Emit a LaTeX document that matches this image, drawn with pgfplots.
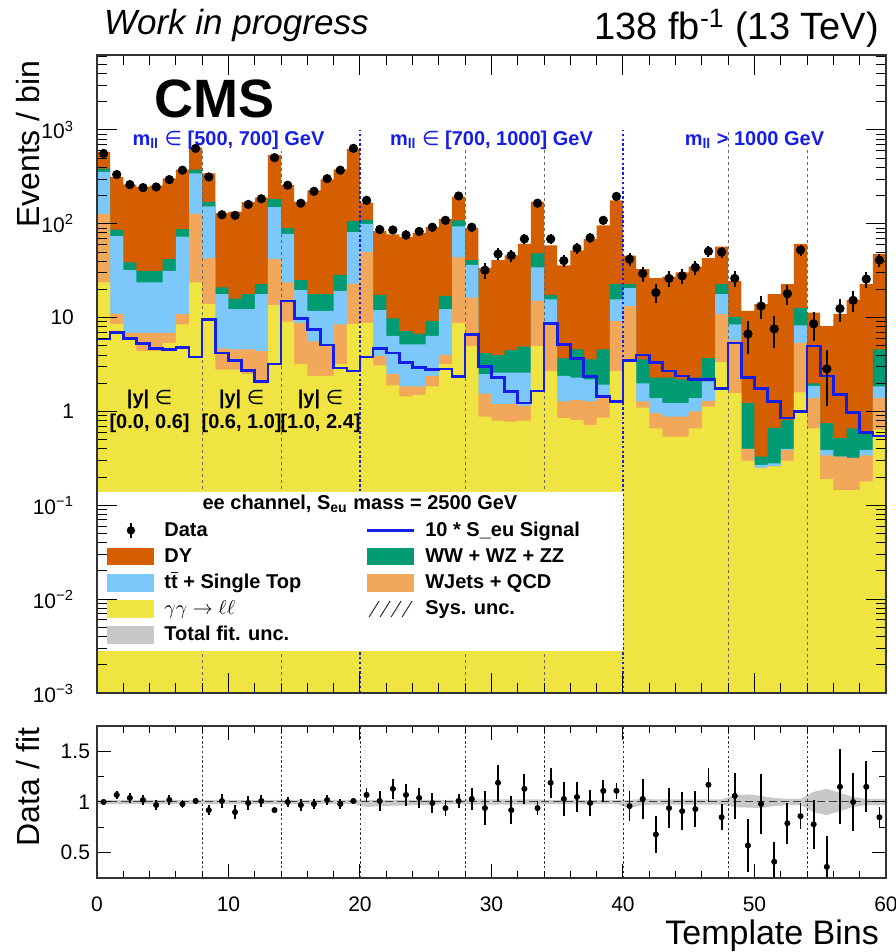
\documentclass[border=0pt]{standalone}
\usepackage{fontspec}
\setmainfont{Liberation Sans}
\newfontfamily\dejavu{DejaVu Sans}
\usepackage{pgfplots}
\pgfplotsset{compat=1.18}
\usepackage{pgfplotstable}

\definecolor{dyc}{RGB}{213,94,0}
\definecolor{ttc}{RGB}{125,200,250}
\definecolor{wwc}{RGB}{0,155,115}
\definecolor{wjc}{RGB}{242,168,90}
\definecolor{yyc}{RGB}{240,228,66}
\definecolor{sigc}{RGB}{20,30,230}
\definecolor{uncc}{RGB}{200,200,200}

% cumulative stack tops: dy = total, ww = WW+tt+WJ+yy, tt = tt+WJ+yy, wj = WJ+yy, yy
\pgfplotstableread{
x dy ww tt wj yy sig
0 586 388 358 128 23.7 5.9
1 316 87 74 11.0 8.6 6.9
2 262 38.8 32.1 6.9 6.1 6.0
3 248 31.6 23.7 6.9 4.4 5.3
4 255 31.6 23.7 6.9 4.4 4.7
5 305 42 31.6 6.9 5.4 4.6
6 379 88 73 10.9 8.5 4.8
7 650 379 344 128 23.7 3.8
8 345 171 153 43 13.9 9.6
9 130 21 17.8 4.7 2.8 4.2
10 135 16 12.3 4.6 2.8 3.5
11 170 17.8 12.3 4.6 2.5 2.75
12 190 22.8 17.8 4.4 2.0 2.1
13 540 185 151 42 13.6 3.2
14 258 90 78 23.7 9.1 15.1
15 171 25.1 19.6 8.8 3.2 9.8
16 227 17.8 11.8 5.6 2.4 7.5
17 297 17.8 11.8 5.0 2.4 5.1
18 381 28.6 19.3 8.5 3.2 2.9
19 631 107 81.5 23.1 8.6 2.7
20 168 110 100 50 8.8 3.8
21 84 17.5 12.0 3.9 3.1 4.7
22 77 9.8 6.4 2.5 1.9 4.2
23 72 7.2 5.2 1.85 1.45 3.35
24 80 6.7 5.2 1.85 1.5 2.95
25 92 9.2 6.4 2.4 1.85 2.8
26 113 17.1 12.3 4.0 3.2 2.85
27 195 109 94 44 8.8 2.35
28 90 41 36.6 16.4 5.0 6.6
29 34 4.2 2.5 1.55 0.88 3.0
30 41 4.0 2.6 1.2 0.8 2.3
31 46 4.5 2.6 1.2 0.78 1.64
32 61 4.9 2.6 1.15 0.8 1.23
33 171 48.5 34.3 15.1 5.0 1.66
34 59 17.5 15.7 8.6 2.7 8.7
35 36 3.7 2.4 1.28 0.85 5.2
36 52 4.6 2.3 1.33 0.81 3.65
37 69 3.6 2.2 1.28 0.72 2.35
38 96 4.6 1.93 1.39 0.86 1.45
39 178 22.8 15.7 9.2 2.7 1.28
40 45.8 22.8 20.6 13.3 3.5 3.5
41 33 3.6 2.0 1.28 1.1 4.0
42 26.4 2.3 1.39 0.96 0.66 3.35
43 27.3 2.3 1.23 0.88 0.54 2.7
44 30.3 2.2 1.23 0.88 0.54 2.4
45 34.9 2.3 1.39 1.0 0.66 2.2
46 43.2 3.7 2.1 1.3 1.13 2.2
47 57 22.8 17.8 10.9 3.35 1.77
48 24.7 10.2 8.5 5.7 1.57 5.35
49 11.8 1.23 0.40 0.40 0.30 2.3
50 13.9 0.33 0.27 0.25 0.25 1.75
51 17.8 0.67 0.28 0.26 0.26 1.28
52 22.8 0.81 0.40 0.39 0.30 0.85
53 61 12.6 8.3 5.4 1.6 1.0
54 11.3 2.0 1.88 1.39 0.66 5.0
55 8.1 0.75 0.39 0.34 0.19 2.4
56 10.9 0.52 0.33 0.33 0.145 1.52
57 15.5 0.66 0.32 0.32 0.145 0.98
58 22.8 0.61 0.39 0.34 0.18 0.6
59 47.7 4.6 1.85 1.39 0.64 0.55
60 47.7 4.6 1.85 1.39 0.64 0.55
}\stack

\pgfplotstableread{
x d e
0.5 562 24
1.5 335 18
2.5 262 16
3.5 243 16
4.5 247 16
5.5 296 17
6.5 373 19
7.5 637 25
8.5 316 18
9.5 125 11
10.5 123 11
11.5 161 13
12.5 185 14
13.5 507 22
14.5 258 16
15.5 166 13
16.5 222 15
17.5 303 17
18.5 373 19
19.5 637 25
20.5 178 13
21.5 87 9
22.5 86 9
23.5 76 9
24.5 83 9
25.5 92 10
26.5 109 10
27.5 198 14
28.5 92 10
29.5 32 6
30.5 47.7 7
31.5 46 7
32.5 69 8
33.5 166 13
34.5 69 8
35.5 40.5 6
36.5 55 7
37.5 71 8
38.5 109 10
39.5 196 14
40.5 42 6.5
41.5 29.6 5.4
42.5 18.5 4.3
43.5 26.2 5.1
44.5 27.9 5.3
45.5 34.3 5.9
46.5 51 7.1
47.5 50 7.1
48.5 26.2 5.1
49.5 6.7 2.6
50.5 13.3 3.6
51.5 7.6 2.8
52.5 18 4.2
53.5 52.6 7.3
54.5 8.6 2.9
55.5 2.85 1.7
56.5 12.5 3.5
57.5 15.3 3.9
58.5 25.8 5.1
59.5 41 6.4
}\datatab

\pgfplotstableread{
x r e
0.5 1.00 0.03
1.5 1.07 0.04
2.5 1.04 0.05
3.5 1.02 0.05
4.5 0.97 0.05
5.5 1.02 0.05
6.5 0.98 0.04
7.5 1.01 0.03
8.5 0.92 0.05
9.5 1.01 0.07
10.5 0.90 0.07
11.5 0.99 0.07
12.5 1.01 0.06
13.5 0.92 0.03
14.5 1.00 0.05
15.5 0.97 0.06
16.5 0.98 0.05
17.5 1.02 0.05
18.5 0.98 0.05
19.5 1.01 0.03
20.5 1.07 0.07
21.5 1.01 0.10
22.5 1.13 0.10
23.5 1.07 0.11
24.5 1.04 0.10
25.5 0.99 0.10
26.5 0.94 0.08
27.5 1.01 0.07
28.5 1.03 0.11
29.5 0.94 0.17
30.5 1.19 0.18
31.5 0.92 0.14
32.5 1.13 0.15
33.5 0.94 0.07
34.5 1.19 0.15
35.5 1.03 0.17
36.5 1.05 0.15
37.5 0.99 0.13
38.5 1.11 0.11
39.5 1.11 0.08
40.5 0.96 0.15
41.5 1.03 0.20
42.5 0.68 0.18
43.5 0.94 0.20
44.5 0.91 0.19
45.5 0.93 0.18
46.5 1.17 0.17
47.5 0.85 0.13
48.5 1.06 0.23
49.5 0.57 0.26
50.5 0.98 0.30
51.5 0.41 0.20
52.5 0.79 0.20
53.5 0.86 0.13
54.5 0.78 0.24
55.5 0.36 0.30
56.5 1.15 0.37
57.5 1.00 0.29
58.5 1.15 0.25
59.5 0.85 0.10
}\ratiotab

\pgfplotstableread{
x y
0 1.02
19.5 1.02
20.5 1.02
21.5 1.02
27.5 1.02
28.5 1.025
33.5 1.025
34.5 1.02
39.5 1.02
40.5 1.02
41.5 1.03
42.5 1.025
47.5 1.025
48.5 1.07
49.5 1.075
50.5 1.06
51.5 1.04
52.5 1.03
53.5 1.03
54.5 1.10
55.5 1.13
56.5 1.09
57.5 1.05
58.5 1.03
60 1.03
60 0.97
58.5 0.97
57.5 0.95
56.5 0.91
55.5 0.87
54.5 0.90
53.5 0.97
52.5 0.97
51.5 0.96
50.5 0.94
49.5 0.945
48.5 0.95
47.5 0.975
42.5 0.975
41.5 0.97
40.5 0.94
39.5 0.98
34.5 0.98
33.5 0.975
28.5 0.975
27.5 0.98
21.5 0.96
20.5 0.95
19.5 0.98
0 0.98
}\band

\begin{document}
\begin{tikzpicture}
\begin{axis}[
  name=top, at={(0pt,92.5pt)}, anchor=south west,
  scale only axis, width=394.5pt, height=319pt,
  xmin=0, xmax=60, ymode=log, ymin=1e-3, ymax=6300,
  log origin y=infty, axis on top, clip=false,
  xtick={0,10,...,60}, xticklabels={}, minor x tick num=4,
  ytick={1e-3,1e-2,1e-1,1,10,100,1000},
  yticklabels={10\textsuperscript{−3},10\textsuperscript{−2},10\textsuperscript{−1},1,10,10\textsuperscript{2},10\textsuperscript{3}},
  minor ytick={2e-3,3e-3,4e-3,5e-3,6e-3,7e-3,8e-3,9e-3,2e-2,3e-2,4e-2,5e-2,6e-2,7e-2,8e-2,9e-2,0.2,0.3,0.4,0.5,0.6,0.7,0.8,0.9,2,3,4,5,6,7,8,9,20,30,40,50,60,70,80,90,200,300,400,500,600,700,800,900,2000,3000,4000,5000,6000},
  major tick length=10pt, minor tick length=5pt,
  tick style={black, line width=0.5pt},
  axis line style={black!80, line width=0.6pt},
  tick label style={font=\fontsize{10.5}{12}\selectfont},
  yticklabel style={xshift=-8pt},
  ylabel={Events / bin},
  ylabel style={at={(axis description cs:-0.0875,0.86)}, anchor=center, font=\fontsize{16}{18}\selectfont},
  legend columns=2, legend cell align=left,
  legend style={at={(axis description cs:0.0127,0.2699)}, anchor=north west,
    draw=none, fill=none, inner sep=0pt,
    font=\fontsize{10}{12}\selectfont\bfseries, row sep=3.9pt,
    nodes={inner sep=0pt, text height=7.4pt, text depth=1.8pt},
    /tikz/every odd column/.append style={column sep=5pt},
    /tikz/every even column/.append style={column sep=5pt}},
]
% stacked backgrounds (cumulative)
\addplot[const plot, fill=dyc, draw=none, forget plot] table[x=x, y=dy] {\stack} \closedcycle;
\addplot[const plot, fill=wwc, draw=none, forget plot] table[x=x, y=ww] {\stack} \closedcycle;
\addplot[const plot, fill=ttc, draw=none, forget plot] table[x=x, y=tt] {\stack} \closedcycle;
\addplot[const plot, fill=wjc, draw=none, forget plot] table[x=x, y=wj] {\stack} \closedcycle;
\addplot[const plot, fill=yyc, draw=none, forget plot] table[x=x, y=yy] {\stack} \closedcycle;
% separators
\addplot[black!60, dash pattern=on 1.5pt off 1.5pt, line width=0.5pt, forget plot] coordinates {(8,0.001) (8,600)};
\addplot[black!60, dash pattern=on 1.5pt off 1.5pt, line width=0.5pt, forget plot] coordinates {(14,0.001) (14,600)};
\addplot[black!60, dash pattern=on 1.5pt off 1.5pt, line width=0.5pt, forget plot] coordinates {(28,0.001) (28,650)};
\addplot[black!60, dash pattern=on 1.5pt off 1.5pt, line width=0.5pt, forget plot] coordinates {(34,0.001) (34,650)};
\addplot[black!60, dash pattern=on 1.5pt off 1.5pt, line width=0.5pt, forget plot] coordinates {(48,0.001) (48,1000)};
\addplot[black!60, dash pattern=on 1.5pt off 1.5pt, line width=0.5pt, forget plot] coordinates {(54,0.001) (54,650)};
\addplot[sigc, dash pattern=on 1.2pt off 1.2pt, line width=0.6pt, forget plot] coordinates {(20,0.001) (20,1000)};
\addplot[sigc, dash pattern=on 1.2pt off 1.2pt, line width=0.6pt, forget plot] coordinates {(40,0.001) (40,1000)};
% signal
\addplot[const plot, sigc, line width=1.3pt, forget plot] table[x=x, y=sig] {\stack};
% data
\addplot[only marks, mark=*, mark size=2.1pt, black, forget plot,
  error bars/.cd, y dir=both, y explicit, error bar style={line width=1pt, black}, error mark=none]
  table[x=x, y=d, y error=e] {\datatab};
% legend background
\addplot[fill=white, draw=none, forget plot] coordinates {(0,0.00282) (40,0.00282) (40,0.139) (0,0.139) (0,0.00282)};

\addlegendimage{legend image code/.code={\path[draw=none,fill=none] (0pt,-4.4pt) rectangle (23.5pt,4.4pt); \draw[black,line width=1pt] (11.75pt,-3.8pt)--(11.75pt,3.8pt); \fill[black,draw=none] (11.75pt,0pt) circle (2.1pt);}}
\addlegendentry{\makebox[95.75pt][l]{Data}}
\addlegendimage{legend image code/.code={\path[draw=none,fill=none] (0pt,-4.4pt) rectangle (23.5pt,4.4pt); \draw[sigc,line width=1.2pt] (0pt,0pt)--(23.5pt,0pt);}}
\addlegendentry{10 * S\_eu Signal}
\addlegendimage{legend image code/.code={\fill[dyc,draw=none] (0pt,-4.4pt) rectangle (23.5pt,4.4pt);}}
\addlegendentry{\makebox[95.75pt][l]{DY}}
\addlegendimage{legend image code/.code={\fill[wwc,draw=none] (0pt,-4.4pt) rectangle (23.5pt,4.4pt);}}
\addlegendentry{WW + WZ + ZZ}
\addlegendimage{legend image code/.code={\fill[ttc,draw=none] (0pt,-4.4pt) rectangle (23.5pt,4.4pt);}}
\addlegendentry{\makebox[95.75pt][l]{t$\overline{\mbox{t}}$ + Single Top}}
\addlegendimage{legend image code/.code={\fill[wjc,draw=none] (0pt,-4.4pt) rectangle (23.5pt,4.4pt);}}
\addlegendentry{WJets + QCD}
\addlegendimage{legend image code/.code={\fill[yyc,draw=none] (0pt,-4.4pt) rectangle (23.5pt,4.4pt);}}
\addlegendentry{\makebox[95.75pt][l]{$\gamma\gamma \rightarrow \ell\ell$}}
\addlegendimage{legend image code/.code={\path[draw=none,fill=none] (0pt,-4.4pt) rectangle (23.5pt,4.4pt); \foreach \k in {0,1,2,3} {\draw[black!80, line width=0.5pt] (1pt+5.5pt*\k,-4pt) -- (6pt+5.5pt*\k,4pt);}}}
\addlegendentry{Sys. unc.}
\addlegendimage{legend image code/.code={\fill[uncc,draw=none] (0pt,-4.4pt) rectangle (23.5pt,4.4pt);}}
\addlegendentry{\makebox[95.75pt][l]{Total fit. unc.}}

% annotations
\node[font=\fontsize{27}{30}\selectfont\bfseries] at (axis cs:8.9,2150) {CMS};
\node[font=\fontsize{10}{12}\selectfont\bfseries, text=sigc] at (axis cs:10,782) {m\textsubscript{ll} {\dejavu\mdseries ∈} [500, 700] GeV};
\node[font=\fontsize{10}{12}\selectfont\bfseries, text=sigc] at (axis cs:30,782) {m\textsubscript{ll} {\dejavu\mdseries ∈} [700, 1000] GeV};
\node[font=\fontsize{10}{12}\selectfont\bfseries, text=sigc] at (axis cs:50,782) {m\textsubscript{ll} > 1000 GeV};
\node[font=\fontsize{10}{12}\selectfont\bfseries, align=center] at (axis cs:4,1) {|y| {\dejavu\mdseries ∈}\\{[0.0, 0.6]}};
\node[font=\fontsize{10}{12}\selectfont\bfseries, align=center] at (axis cs:11,1) {|y| {\dejavu\mdseries ∈}\\{[0.6, 1.0]}};
\node[font=\fontsize{10}{12}\selectfont\bfseries, align=center] at (axis cs:17,1) {|y| {\dejavu\mdseries ∈}\\{[1.0, 2.4]}};
\node[font=\fontsize{10}{12}\selectfont\bfseries] at (axis cs:20,0.103) {ee channel, S\textsubscript{eu} mass = 2500 GeV};
\end{axis}

\begin{axis}[
  name=bot, at={(0pt,0pt)}, anchor=south west,
  scale only axis, width=394.5pt, height=76pt,
  xmin=0, xmax=60, ymin=0.25, ymax=1.75, axis on top,
  xtick={0,10,...,60}, xticklabels={0,10,20,30,40,50,60}, minor x tick num=4,
  ytick={0.5,1,1.5}, yticklabels={0.5,1,1.5}, minor ytick={0.75,1.25},
  major tick length=7pt, minor tick length=3.5pt,
  tick style={black, line width=0.5pt},
  axis line style={black!80, line width=0.6pt},
  tick label style={font=\fontsize{10.5}{12}\selectfont},
  xticklabel style={yshift=-6pt},
  ylabel={Data / fit},
  ylabel style={at={(axis description cs:-0.0875,0.6)}, anchor=center, font=\fontsize{16}{18}\selectfont},
]
\addplot[fill=uncc, draw=none] table[x=x, y=y] {\band};
\addplot[black!75, dash pattern=on 4pt off 2pt, line width=0.5pt] coordinates {(0,1) (60,1)};
\addplot[black!80, dash pattern=on 1.2pt off 1.2pt, line width=0.4pt] coordinates {(8,0.25) (8,1.75)};
\addplot[black!80, dash pattern=on 1.2pt off 1.2pt, line width=0.4pt] coordinates {(14,0.25) (14,1.75)};
\addplot[black!80, dash pattern=on 1.2pt off 1.2pt, line width=0.4pt] coordinates {(20,0.25) (20,1.75)};
\addplot[black!80, dash pattern=on 1.2pt off 1.2pt, line width=0.4pt] coordinates {(28,0.25) (28,1.75)};
\addplot[black!80, dash pattern=on 1.2pt off 1.2pt, line width=0.4pt] coordinates {(34,0.25) (34,1.75)};
\addplot[black!80, dash pattern=on 1.2pt off 1.2pt, line width=0.4pt] coordinates {(40,0.25) (40,1.75)};
\addplot[black!80, dash pattern=on 1.2pt off 1.2pt, line width=0.4pt] coordinates {(48,0.25) (48,1.75)};
\addplot[black!80, dash pattern=on 1.2pt off 1.2pt, line width=0.4pt] coordinates {(54,0.25) (54,1.75)};
\addplot[only marks, mark=*, mark size=1.3pt, black,
  error bars/.cd, y dir=both, y explicit, error bar style={line width=0.9pt, black}, error mark=none]
  table[x=x, y=r, y error=e] {\ratiotab};
\end{axis}

\node[anchor=base west, font=\fontsize{17.5}{20}\selectfont\itshape] at ([yshift=10pt]top.north west) {Work in progress};
\node[anchor=base east, font=\fontsize{19}{22}\selectfont] at ([yshift=7.5pt]top.north east) {138 fb\textsuperscript{-1} (13 TeV)};
\node[anchor=base east, font=\fontsize{17}{20}\selectfont] at ([yshift=-33.5pt]bot.south east) {Template Bins};

\pgfresetboundingbox
\path[use as bounding box] ([shift={(-48.5pt,27.5pt)}]top.north west) rectangle ([shift={(5pt,-37pt)}]bot.south east);
\end{tikzpicture}
\end{document}
